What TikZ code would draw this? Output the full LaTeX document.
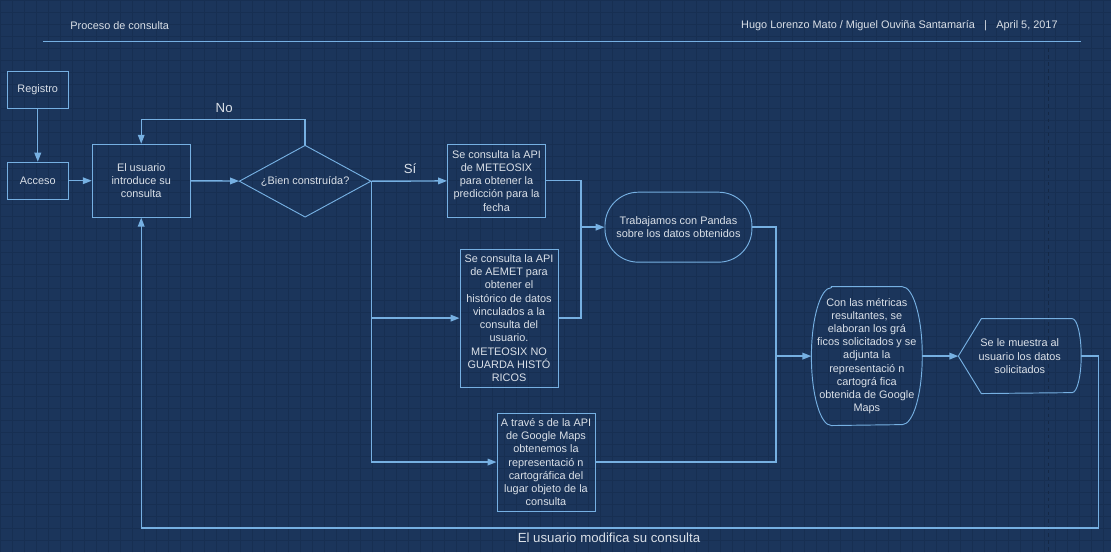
\documentclass[tikz,border=0pt]{standalone}
\usepackage{fontspec}
\setmainfont{Liberation Sans}
\usetikzlibrary{shapes.geometric,arrows.meta}
\definecolor{bgblue}{RGB}{27,53,91}
\definecolor{gridblue}{RGB}{23,47,82}
\definecolor{lineblue}{RGB}{118,176,226}
\definecolor{txtgrey}{RGB}{218,224,232}
\begin{document}
\begin{tikzpicture}
    [
        x=0.03cm, y=-0.03cm,
        box/.style = {draw=lineblue, line width=0.8pt, text=txtgrey, align=center, inner sep=1pt, font=\fontsize{9.3}{11.3}\selectfont},
        free/.style = {box, draw=none},
        lbl/.style = {text=txtgrey, font=\fontsize{11.3}{13}\selectfont},
        head/.style = {text=txtgrey, font=\fontsize{9.3}{11}\selectfont},
        outline/.style = {draw=lineblue, line width=0.8pt},
        flow/.style = {draw=lineblue, line width=1.2pt, -{Triangle[length=0.27cm, width=0.2cm]}},
        link/.style = {draw=lineblue, line width=1.2pt}
    ]
    % background
    \fill[bgblue] (0,0) rectangle (1111,552);
    \draw[gridblue, line width=0.5pt, step=0.36cm] (0,552) grid (1111,0);
    \draw[gridblue!85!black, dashed, line width=0.6pt] (1049,48) -- (1049,552);
    \useasboundingbox (0,0) rectangle (1111,552);

    % header
    \node[head, anchor=west] (title) at (66,25) {Proceso de consulta};
    \node[head, anchor=east] (authors) at (1062,25) {Hugo Lorenzo Mato / Miguel Ouviña Santamaría\hspace{8pt}|\hspace{8pt}April 5, 2017};
    \draw[lineblue, line width=1.2pt] (43,41) -- (1081,41);

    % nodes
    \node[box, minimum width=1.83cm, minimum height=1.11cm] (reg) at (37.5,89.5) {Registro};
    \node[box, minimum width=1.83cm, minimum height=1.11cm] (acc) at (37.5,180.5) {Acceso};
    \node[box, minimum width=2.94cm, minimum height=2.19cm] (usr) at (141,180.5) {El usuario\\introduce su\\consulta};
    \node[box, diamond, aspect=1.8, inner sep=0pt, minimum width=3.96cm, minimum height=2.16cm] (ok) at (305,181) {¿Bien construída?};
    \node[box, minimum width=2.94cm, minimum height=2.19cm] (meteo) at (496.5,180.5) {Se consulta la API\\de METEOSIX\\para obtener la\\predicción para la\\fecha};
    \node[box, minimum width=2.94cm, minimum height=4.14cm] (aemet) at (509,318) {Se consulta la API\\de AEMET para\\obtener el\\histórico de datos\\vinculados a la\\consulta del\\usuario.\\METEOSIX NO\\GUARDA HISTÓ\\RICOS};
    \node[box, minimum width=2.94cm, minimum height=2.94cm] (google) at (546,462) {A travé s de la API\\de Google Maps\\obtenemos la\\representació n\\cartográfica del\\lugar objeto de la\\consulta};
    \node[box, rounded corners=1.0cm, minimum width=4.41cm, minimum height=2.1cm] (pandas) at (678.5,227) {Trabajamos con Pandas\\sobre los datos obtenidos};
    \node[free, minimum width=3.3cm, minimum height=4.14cm] (metr) at (867,356) {Con las métricas\\resultantes, se\\elaboran los grá\\ficos solicitados y se\\adjunta la\\representació n\\cartográ fica\\obtenida de Google\\Maps};
    \node[free, minimum width=3.66cm, minimum height=2.22cm] (disp) at (1020,356) {Se le muestra al\\usuario los datos\\solicitados};
    \draw[outline] ([xshift=0.6cm]metr.north west) -- ([xshift=-0.6cm]metr.north east)
        arc[start angle=90, end angle=-90, x radius=0.6cm, y radius=2.07cm]
        -- ([xshift=0.6cm]metr.south west)
        arc[start angle=270, end angle=90, x radius=0.6cm, y radius=2.07cm] -- cycle;
    \draw[outline] (disp.west) -- ([xshift=0.69cm]disp.north west) -- ([xshift=-0.27cm]disp.north east)
        arc[start angle=90, end angle=-90, x radius=0.27cm, y radius=1.11cm]
        -- ([xshift=0.69cm]disp.south west) -- cycle;

    % labels
    \node[lbl] (no) at (224,108) {No};
    \node[lbl] (si) at (410,168) {Sí};
    \node[lbl] (back) at (609,538) {El usuario modifica su consulta};

    % bends
    \coordinate (nobend) at (305,119);
    \coordinate (mjoin) at (581,227);
    \coordinate (rjoin) at (776,356);
    \coordinate (back1) at (1099,528);
    \coordinate (back2) at (141,528);

    % connectors
    \draw[flow] (reg) -- (acc);
    \draw[flow] (acc) -- (usr);
    \draw[flow] (usr) -- (ok);
    \draw[flow] (ok.north) -- (nobend) -| (usr.north);
    \draw[flow] (ok.east) -- (meteo);
    \draw[flow] (ok.east) |- (aemet);
    \draw[flow] (ok.east) |- (google);
    \draw[flow] (meteo) -| (mjoin) -- (pandas);
    \draw[link] (aemet) -| (mjoin);
    \draw[flow] (pandas) -| (rjoin) -- (metr);
    \draw[link] (google) -| (rjoin);
    \draw[flow] (metr) -- (disp.west);
    \draw[flow] (disp) -| (back1) -- (back2) -- (usr);
\end{tikzpicture}
\end{document}
